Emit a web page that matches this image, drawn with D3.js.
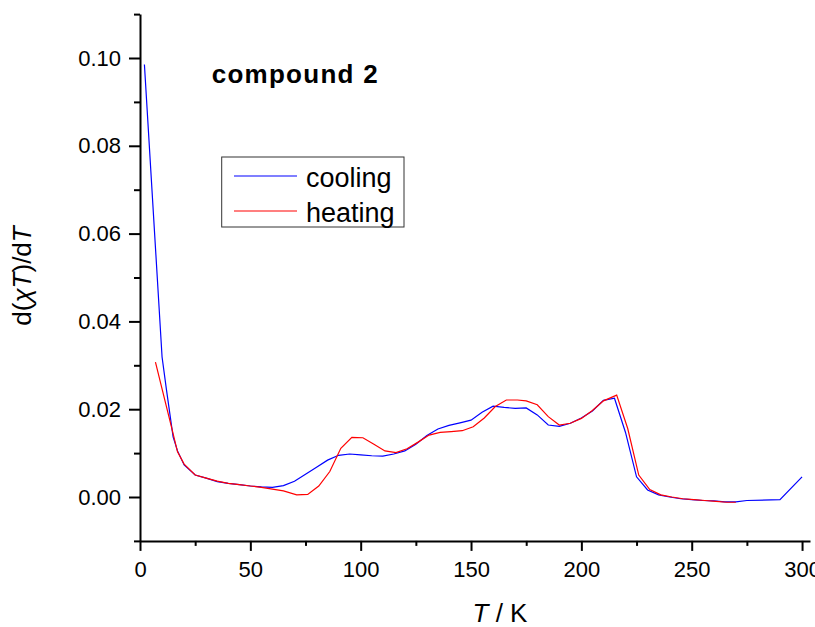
<!DOCTYPE html>
<html><head><meta charset="utf-8">
<script src="https://cdn.jsdelivr.net/npm/d3@7"></script>
<style>
body{margin:0;background:#fff;}
svg text{font-family:Arial,"Liberation Sans",sans-serif;}
</style></head>
<body><svg id="c" width="815" height="627"></svg>
<script>
const coolT = [2,10,12,15,17,20,25,30,35,40,45,50,55,60,65,70,75,80,85,90,95,100,105,110,115,120,125,130,135,140,145,150,155,160,165,170,175,180,185,190,195,200,205,210,215,220,225,230,235,240,245,250,255,260,265,270,275,290,300];
const coolV = [0.0985,0.0319,0.0244,0.0137,0.0105,0.0073,0.0050,0.0043,0.0035,0.0031,0.0028,0.0025,0.0023,0.0022,0.0026,0.0036,0.0052,0.0068,0.0084,0.0095,0.0098,0.0096,0.0094,0.0093,0.0098,0.0105,0.0120,0.0140,0.0155,0.0163,0.0169,0.0175,0.0193,0.0207,0.0204,0.0202,0.0203,0.0187,0.0164,0.0161,0.0168,0.0180,0.0196,0.0220,0.0225,0.0147,0.0046,0.0016,0.0005,0.0000,-0.0004,-0.0006,-0.0008,-0.0009,-0.0011,-0.0011,-0.0008,-0.0006,0.0046];
const heatT = [7,14,17,20,25,30,35,40,45,50,55,60,65,71,76,81,86,91,96,101,106,111,116,121,126,131,136,141,146,151,156,161,166,171,175,180,185,190,195,200,205,210,216,221,226,231,236,241,246,251,256,261,266,270];
const heatV = [0.0307,0.0165,0.0103,0.0075,0.0050,0.0043,0.0036,0.0031,0.0028,0.0025,0.0022,0.0018,0.0014,0.0005,0.0006,0.0025,0.0058,0.0111,0.0136,0.0135,0.0120,0.0105,0.0101,0.0110,0.0125,0.0141,0.0147,0.0149,0.0151,0.0160,0.0180,0.0206,0.0221,0.0221,0.0219,0.0210,0.0183,0.0164,0.0168,0.0179,0.0197,0.0219,0.0232,0.0156,0.0050,0.0017,0.0005,0.0000,-0.0004,-0.0006,-0.0008,-0.0010,-0.0012,-0.0012];
const xMajor = [0,50,100,150,200,250,300];
const xMinor = [25,75,125,175,225,275];
const yMajor = [0.00,0.02,0.04,0.06,0.08,0.10];
const yMinor = [-0.01,0.01,0.03,0.05,0.07,0.09,0.11];
const seriesNames = ["cooling","heating"];
const seriesColors = ["#0000ff","#ff0000"];

const svg = d3.select("#c");
const x = d3.scaleLinear().domain([0,303.6]).range([140,810]);
const y = d3.scaleLinear().domain([-0.01,0.11]).range([540.9,14.1]);

// axes
const gx = svg.append("g").attr("transform","translate(0,540.9)");
gx.call(d3.axisBottom(x).tickValues(xMajor).tickSize(10).tickSizeOuter(0).tickPadding(10).tickFormat(d3.format("d")));
gx.append("g").call(d3.axisBottom(x).tickValues(xMinor).tickSize(5).tickSizeOuter(0).tickFormat(""))
  .select(".domain").remove();
const gy = svg.append("g").attr("transform","translate(140,0)");
gy.call(d3.axisLeft(y).tickValues(yMajor).tickSize(11).tickSizeOuter(0).tickPadding(8).tickFormat(d3.format(".2f")));
gy.append("g").call(d3.axisLeft(y).tickValues(yMinor).tickSize(6).tickSizeOuter(0).tickFormat(""))
  .select(".domain").remove();
svg.selectAll(".domain").attr("stroke","#000").attr("stroke-width",2);
svg.selectAll(".tick line").attr("stroke","#000").attr("stroke-width",2);
svg.selectAll(".tick text").attr("font-size",22).attr("font-family","Arial, 'Liberation Sans', sans-serif").attr("fill","#000");

// lines
const line = d3.line().x(d=>x(d[0])).y(d=>y(d[1]));
const series = [d3.zip(coolT,coolV), d3.zip(heatT,heatV)];
svg.append("g").selectAll("path").data(series).join("path")
  .attr("d",line).attr("fill","none")
  .attr("stroke",(d,i)=>seriesColors[i]).attr("stroke-width",1.2);

// title
svg.append("text").attr("x",211.7).attr("y",83.3).attr("font-size",26).attr("font-weight","bold")
  .attr("textLength",166).attr("lengthAdjust","spacing").text("compound 2");

// legend
const lg = svg.append("g");
lg.append("rect").attr("x",221.7).attr("y",157).attr("width",182.3).attr("height",70)
  .attr("fill","#fff").attr("stroke","#333").attr("stroke-width",1);
seriesNames.forEach((n,i)=>{
  const yy = 176 + i*35;
  lg.append("line").attr("x1",234).attr("x2",297).attr("y1",yy).attr("y2",yy)
    .attr("stroke",seriesColors[i]).attr("stroke-width",1.2);
  lg.append("text").attr("x",306).attr("y",yy+10.5).attr("font-size",27).text(n);
});

// axis titles
const xt = svg.append("text").attr("x",500).attr("y",621.5).attr("font-size",26).attr("text-anchor","middle");
xt.append("tspan").attr("font-style","italic").text("T");
xt.append("tspan").text(" / K");

const yt = svg.append("text").attr("transform","translate(31,276) rotate(-90)")
  .attr("font-size",26).attr("text-anchor","middle");
yt.append("tspan").text("d(");
yt.append("tspan").attr("font-style","italic").text("χT");
yt.append("tspan").text(")/d");
yt.append("tspan").attr("font-style","italic").text("T");
</script></body></html>
